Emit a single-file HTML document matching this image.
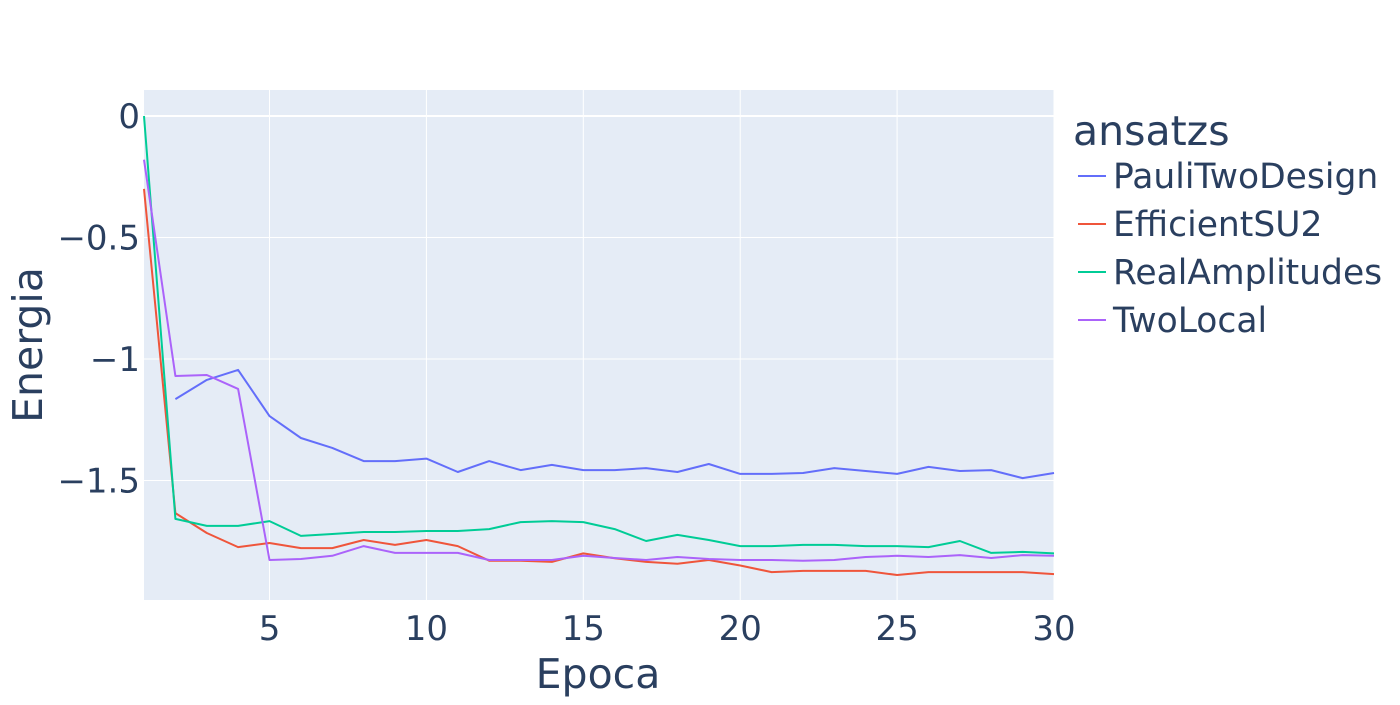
<!DOCTYPE html>
<html><head><meta charset="utf-8"><style>
body{margin:0;background:#fff;}
svg text{font-family:"DejaVu Sans","Liberation Sans",sans-serif;fill:#2a3f5f;}
</style></head><body>
<svg id="chart" width="1400" height="700">
<rect x="144" y="90" width="910" height="510" fill="#E5ECF6"/>
<g id="grid"></g><g id="series"></g><g id="axes"></g>
<text x="598" y="688" font-size="41" text-anchor="middle">Epoca</text>
<text transform="translate(42,345) rotate(-90)" font-size="41" text-anchor="middle">Energia</text>
<g id="legend">
<text x="1073" y="145" font-size="41">ansatzs</text>
</g>
</svg>
<script>
const epochs=[1,2,3,4,5,6,7,8,9,10,11,12,13,14,15,16,17,18,19,20,21,22,23,24,25,26,27,28,29,30];
const seriesNames=["PauliTwoDesign","EfficientSU2","RealAmplitudes","TwoLocal"];
const seriesColors=["#636efa","#EF553B","#00cc96","#ab63fa"];
const pauli=[null,-1.165,-1.086,-1.045,-1.235,-1.325,-1.366,-1.42,-1.42,-1.41,-1.465,-1.42,-1.457,-1.436,-1.457,-1.457,-1.449,-1.465,-1.432,-1.473,-1.473,-1.469,-1.449,-1.461,-1.473,-1.444,-1.461,-1.457,-1.49,-1.469];
const efficient=[-0.3,-1.634,-1.716,-1.774,-1.757,-1.778,-1.778,-1.745,-1.765,-1.745,-1.77,-1.83,-1.83,-1.835,-1.80,-1.82,-1.835,-1.843,-1.827,-1.85,-1.877,-1.872,-1.872,-1.872,-1.889,-1.877,-1.877,-1.877,-1.877,-1.885];
const real=[0,-1.658,-1.687,-1.687,-1.667,-1.728,-1.72,-1.712,-1.712,-1.708,-1.708,-1.70,-1.671,-1.667,-1.671,-1.70,-1.749,-1.724,-1.745,-1.77,-1.77,-1.765,-1.765,-1.77,-1.77,-1.774,-1.749,-1.798,-1.794,-1.80];
const twolocal=[-0.18,-1.07,-1.066,-1.123,-1.827,-1.823,-1.81,-1.77,-1.798,-1.798,-1.798,-1.827,-1.827,-1.827,-1.81,-1.819,-1.827,-1.815,-1.823,-1.827,-1.827,-1.83,-1.827,-1.815,-1.81,-1.815,-1.807,-1.819,-1.807,-1.81];
const xTicks=[5,10,15,20,25,30];
const yTicks=[0,-0.5,-1,-1.5];
const yTickLabels=["0","−0.5","−1","−1.5"];
const allSeries=[pauli,efficient,real,twolocal];
const NS="http://www.w3.org/2000/svg";
const X=v=>144+(v-1)*(910/29);
const Y=v=>116-v*243;
function mk(tag,attrs,parent){const e=document.createElementNS(NS,tag);for(const k in attrs)e.setAttribute(k,attrs[k]);parent.appendChild(e);return e;}
const grid=document.getElementById('grid'),axes=document.getElementById('axes'),ser=document.getElementById('series'),leg=document.getElementById('legend');
xTicks.forEach(t=>{
 const l=mk('line',{x1:X(t),x2:X(t),y1:90,y2:600,stroke:'#fff','stroke-width':1},grid);
 
 
 const tx=mk('text',{x:X(t),y:640,'font-size':34,'text-anchor':'middle'},axes);tx.textContent=t;
 
 
});
yTicks.forEach((t,i)=>{
 const l=mk('line',{x1:144,x2:1054,y1:Y(t),y2:Y(t),stroke:'#fff','stroke-width':t===0?2:1},grid);
 
 
 const tx=mk('text',{x:140,y:Y(t)+12,'font-size':34,'text-anchor':'end'},axes);tx.textContent=yTickLabels[i];
 
 
});
allSeries.forEach((s,i)=>{
 const pts=[];s.forEach((v,j)=>{if(v!==null)pts.push(X(epochs[j]).toFixed(1)+','+Y(v).toFixed(1));});
 const p=mk('polyline',{points:pts.join(' '),fill:'none',stroke:seriesColors[i],'stroke-width':2,'stroke-linejoin':'round'},ser);
 
 
 const y=176+i*48;
 const g=mk('g',{},leg);
 
 
 mk('line',{x1:1078,x2:1106,y1:y,y2:y,stroke:seriesColors[i],'stroke-width':2},g);
 const t=mk('text',{x:1113,y:y+12,'font-size':34.5},g);t.textContent=seriesNames[i];
});
</script>
</body></html>
